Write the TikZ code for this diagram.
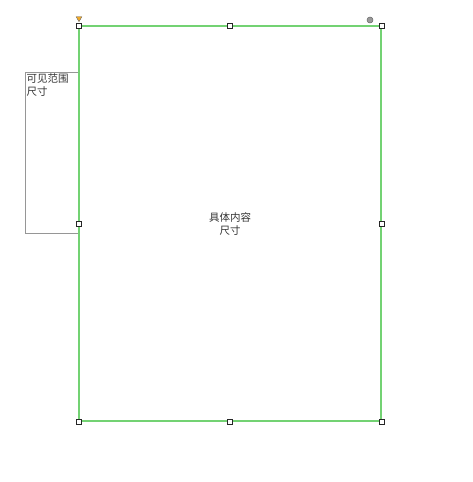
\documentclass[tikz,border=0pt]{standalone}
\usepackage{fontspec}
\newfontfamily\cjk{Noto Sans CJK SC}
\usetikzlibrary{shapes.geometric,positioning}
\definecolor{framegreen}{RGB}{115,210,115}
\definecolor{viewgray}{RGB}{150,150,150}
\definecolor{markorange}{RGB}{240,170,40}
\tikzset{
  handle/.style={draw=black!85,fill=white,line width=0.8pt,minimum size=5pt,inner sep=0pt},
  sizetext/.style={font=\cjk\fontsize{10.5}{13}\selectfont,text=black!80,align=center,inner sep=0pt}
}
\begin{document}
\begin{tikzpicture}[x=1pt,y=-1pt]
\useasboundingbox (0,0) rectangle (472,482);
% visible range box
\node[minimum width=54pt,minimum height=161pt,inner sep=0pt,anchor=north west] (view) at (25,72) {};
\draw[viewgray,line width=1pt] (view.north east) -- (view.north west) -- (view.south west) -- (view.south east);
\node[sizetext,align=left,anchor=north west] (viewtext) at ([xshift=1.5pt,yshift=-1.5pt]view.north west) {可见范围\\尺寸};
% content box
\node[minimum width=302pt,minimum height=395pt,inner sep=0pt,anchor=north west] (content) at (79,26) {};
\draw[framegreen,line width=2pt] (content.north west) -- (content.north east) -- (content.south east) -- (content.south west) -- cycle;
\node[sizetext] (contenttext) at (content.center) {具体内容\\尺寸};
% resize handles
\foreach \a in {north west,north,north east,west,east,south west,south,south east}
  \node[handle] (h-\a) at (content.\a) {};
% top markers
\node[isosceles triangle,shape border rotate=-90,isosceles triangle apex angle=60,draw=black!60,fill=markorange,line width=0.4pt,inner sep=0pt,minimum size=5pt,above=1pt of h-north west] (anchor) {};
\node[circle,draw=black!60,fill=black!40,line width=0.5pt,inner sep=0pt,minimum size=6pt] (rotate) at (370,20) {};
\end{tikzpicture}
\end{document}
